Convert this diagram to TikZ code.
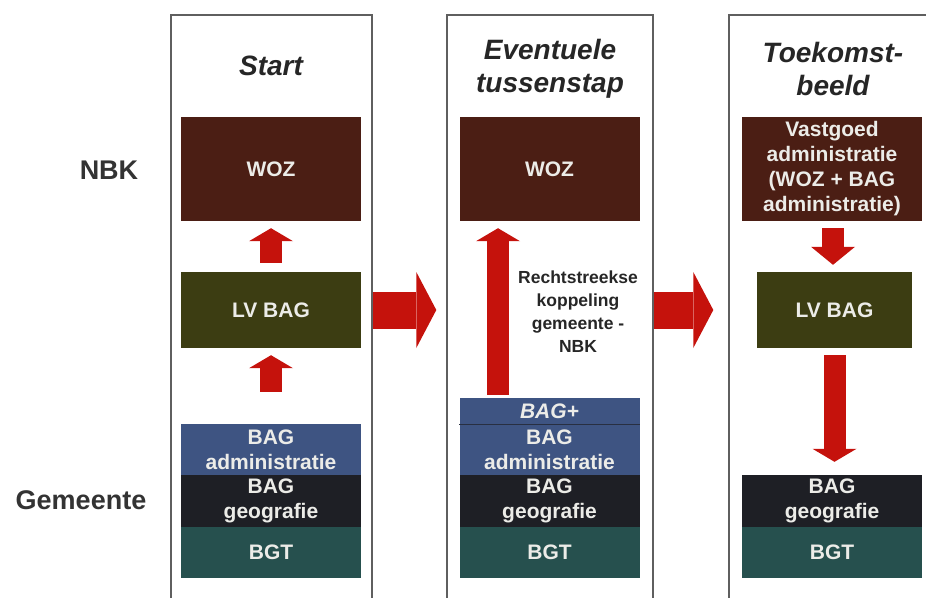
\documentclass[tikz,border=0pt]{standalone}
\usepackage{fontspec}
\setmainfont{Liberation Sans}
\usetikzlibrary{arrows.meta}

\definecolor{wozbruin}{RGB}{75,30,20}
\definecolor{lvolijf}{RGB}{60,61,18}
\definecolor{admblauw}{RGB}{62,84,130}
\definecolor{geodonker}{RGB}{30,31,37}
\definecolor{bgtgroen}{RGB}{38,80,78}
\definecolor{pijlrood}{RGB}{197,18,12}
\definecolor{kader}{RGB}{95,95,95}
\definecolor{tekstlicht}{RGB}{236,236,232}

\begin{document}
\begin{tikzpicture}[x=1pt, y=-1pt,
  kolom/.style={draw=kader, line width=1.4pt, minimum height=594pt},
  titel/.style={align=center, text=black!85, font=\fontsize{28}{33}\selectfont\bfseries\itshape},
  zijlabel/.style={text=black!80, font=\fontsize{27}{32}\selectfont\bfseries},
  laag/.style={align=center, inner sep=0pt, minimum width=180pt, text=tekstlicht, font=\fontsize{21}{25}\selectfont\bfseries},
  pijl/.style={color=pijlrood, line width=22pt, -{Triangle[length=13pt, width=44pt, line width=0pt]}},
  grotepijl/.style={color=pijlrood, line width=37pt, -{Triangle[length=20pt, width=76pt, line width=0pt]}}]

	\path[use as bounding box, clip] (0, 0) rectangle (926, 597);

	\node[kolom, minimum width=201pt] (panel1) at (271.5, 312) {};
	\node[kolom, minimum width=206pt] (panel2) at (550, 312) {};
	\node[kolom, minimum width=212pt] (panel3) at (835, 312) {};

	\node[titel] (t1) at (271, 66)     {Start};
	\node[titel] (t2) at (550, 68.5)   {Eventuele\\tussenstap};
	\node[titel] (t3) at (833, 68.5)   {Toekomst-\\beeld};

	\node[zijlabel] (nbk) at (109, 170)     {NBK};
	\node[zijlabel] (gem) at (81, 500)      {Gemeente};

	\node[laag, fill=wozbruin, minimum height=104pt] (woz1) at (271, 169)    {WOZ};
	\node[laag, fill=lvolijf, minimum height=76pt] (lv1) at (271, 310)       {LV BAG};
	\node[laag, fill=admblauw, minimum height=51pt] (adm1) at (271, 449.5)   {BAG\\administratie};
	\node[laag, fill=geodonker, minimum height=52pt] (geo1) at (271, 501)    {BAG\\geografie};
	\node[laag, fill=bgtgroen, minimum height=51pt] (bgt1) at (271, 552.5)   {BGT};

	\node[laag, fill=wozbruin, minimum height=104pt] (woz2) at (549.5, 169)  {WOZ};
	\node[laag, fill=admblauw, minimum height=26pt] (plus2) at (549.5, 411)  {\itshape BAG+};
	\node[laag, fill=admblauw, minimum height=51pt] (adm2) at (549.5, 449.5) {BAG\\administratie};
	\node[laag, fill=geodonker, minimum height=52pt] (geo2) at (549.5, 501)  {BAG\\geografie};
	\node[laag, fill=bgtgroen, minimum height=51pt] (bgt2) at (549.5, 552.5) {BGT};
	\draw[geodonker!70!admblauw, line width=1.2pt] (plus2.south west) -- (plus2.south east);

	\node[align=center, text=black!85, font=\fontsize{17.5}{23}\selectfont\bfseries] (kop) at (578, 312) {Rechtstreekse\\koppeling\\gemeente -\\NBK};

	\node[laag, fill=wozbruin, minimum height=104pt] (vast3) at (832, 169)   {Vastgoed\\administratie\\(WOZ + BAG\\administratie)};
	\node[laag, fill=lvolijf, minimum width=155pt, minimum height=76pt] (lv3) at (834.5, 310) {LV BAG};
	\node[laag, fill=geodonker, minimum height=52pt] (geo3) at (832, 501)    {BAG\\geografie};
	\node[laag, fill=bgtgroen, minimum height=51pt] (bgt3) at (832, 552.5)   {BGT};

    \path[pijl] (lv1) edge [shorten <=9pt, shorten >=7pt] (woz1);
    \path[pijl] (adm1) edge [shorten <=32pt, shorten >=7pt] (lv1);
    \path[pijl] ([xshift=-51.5pt]plus2.north) edge [shorten <=3pt, shorten >=7pt] ([xshift=-51.5pt]woz2.south);

    \path[pijl] ([xshift=1pt]vast3.south) edge [shorten <=7pt, shorten >=7pt, -{Triangle[length=18pt, width=44pt, line width=0pt]}] ([xshift=1pt]vast3.south |- lv3.north);
    \path[pijl] (lv3) edge [shorten <=7pt, shorten >=13pt] (lv3 |- geo3.north);

    \path[grotepijl] (panel1.east |- lv1.center) edge [shorten >=10pt] (panel2.west |- lv1.center);
    \path[grotepijl] (panel2.east |- lv1.center) edge [shorten >=15pt] (panel3.west |- lv1.center);

\end{tikzpicture}
\end{document}
